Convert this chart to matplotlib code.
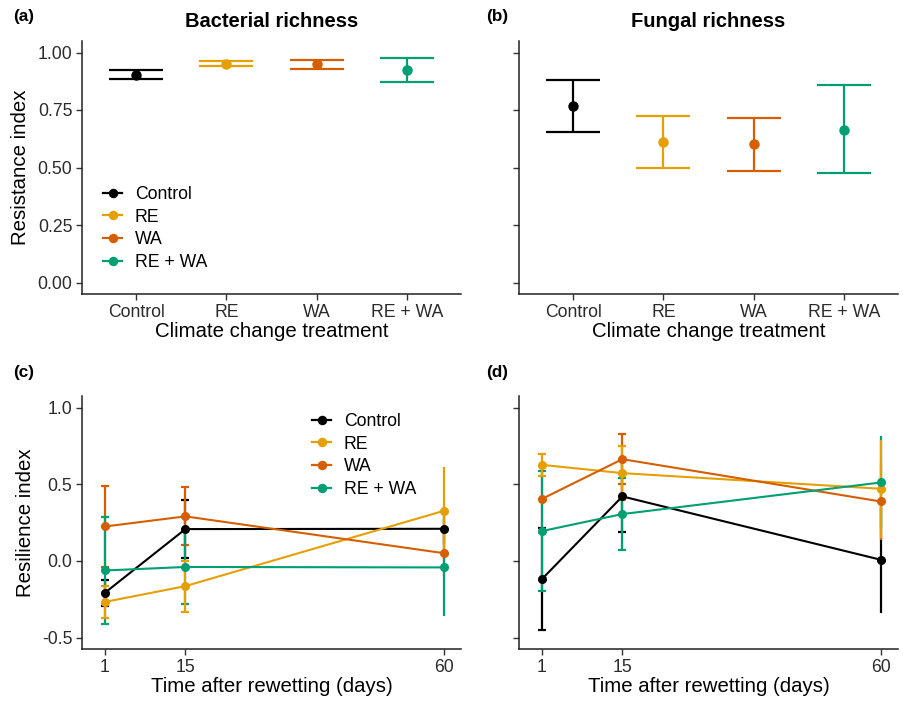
import matplotlib
matplotlib.use("Agg")
import matplotlib.pyplot as plt
from matplotlib.lines import Line2D

plt.rcParams['font.family'] = ['Liberation Sans', 'DejaVu Sans']
plt.rcParams['axes.unicode_minus'] = False

treatments = ['Control', 'RE', 'WA', 'RE + WA']
colors = ['#000000', '#E69F00', '#D55E00', '#009E73']
# error bars drawn with yellow on top, like the original
err_z = [2.0, 2.6, 2.2, 2.4]

# (a) bacterial richness resistance
bac_mean = [0.904, 0.952, 0.949, 0.922]
bac_low = [0.884, 0.942, 0.929, 0.873]
bac_high = [0.925, 0.961, 0.968, 0.974]

# (b) fungal richness resistance
fun_mean = [0.768, 0.610, 0.602, 0.665]
fun_low = [0.655, 0.497, 0.483, 0.476]
fun_high = [0.881, 0.725, 0.717, 0.857]

# (c), (d) resilience over time
days = [1, 15, 60]
bac_res = {
    'Control': ([-0.208, 0.207, 0.209], [0.084, 0.187, 0.10]),
    'RE': ([-0.268, -0.165, 0.326], [0.105, 0.167, 0.289]),
    'WA': ([0.224, 0.290, 0.050], [0.261, 0.189, 0.15]),
    'RE + WA': ([-0.063, -0.040, -0.043], [0.348, 0.239, 0.316]),
}
fun_res = {
    'Control': ([-0.119, 0.420, 0.007], [0.332, 0.235, 0.344]),
    'RE': ([0.626, 0.572, 0.470], [0.070, 0.178, 0.320]),
    'WA': ([0.404, 0.663, 0.387], [0.217, 0.165, 0.250]),
    'RE + WA': ([0.194, 0.305, 0.511], [0.390, 0.235, 0.305]),
}

W, H = 904, 704
fig = plt.figure(figsize=(W / 100, H / 100), dpi=100)


def px_axes(l, t, r, b):
    return fig.add_axes([l / W, 1 - b / H, (r - l) / W, (b - t) / H])


ax_a = px_axes(82, 41, 461, 294)
ax_b = px_axes(519, 41, 898, 294)
ax_c = px_axes(82, 396, 461, 649)
ax_d = px_axes(519, 396, 898, 649)

tick_fs = 12.7
lab_fs = 14.7


def style(ax):
    for s in ['top', 'right']:
        ax.spines[s].set_visible(False)
    for s in ['left', 'bottom']:
        ax.spines[s].set_linewidth(1.1)
        ax.spines[s].set_color('#222222')
    ax.tick_params(length=4, width=1.0, color='#333333', labelsize=tick_fs,
                   labelcolor='#2b2b2b', pad=3)


# resistance panels
for ax, mean, low, high, title in [(ax_a, bac_mean, bac_low, bac_high, 'Bacterial richness'),
                                   (ax_b, fun_mean, fun_low, fun_high, 'Fungal richness')]:
    for i, t in enumerate(treatments):
        x = i + 1
        ax.errorbar([x], [mean[i]], yerr=[[mean[i] - low[i]], [high[i] - mean[i]]],
                    fmt='o', color=colors[i], ms=6.5, elinewidth=1.6, capsize=19.5,
                    capthick=1.6, zorder=3)
    ax.set_xlim(0.4, 4.6)
    ax.set_ylim(-0.05, 1.05)
    ax.set_xticks([1, 2, 3, 4])
    ax.set_xticklabels(treatments)
    ax.set_yticks([0, 0.25, 0.5, 0.75, 1.0])
    ax.set_xlabel('Climate change treatment', fontsize=lab_fs, labelpad=1)
    ax.set_title(title, fontsize=14.5, fontweight='bold', pad=10)
    style(ax)

ax_a.set_yticklabels(['0.00', '0.25', '0.50', '0.75', '1.00'])
ax_a.set_ylabel('Resistance index', fontsize=lab_fs, labelpad=5)
ax_b.set_yticklabels([])

# resilience panels
for ax, data in [(ax_c, bac_res), (ax_d, fun_res)]:
    for i, t in enumerate(treatments):
        m, e = data[t]
        ax.errorbar(days[:2], m[:2], yerr=e[:2], fmt='none', ecolor=colors[i],
                    elinewidth=1.6, capsize=2.7, capthick=1.6, zorder=err_z[i])
        ax.errorbar(days[2:], m[2:], yerr=e[2:], fmt='none', ecolor=colors[i],
                    elinewidth=1.6, capsize=0, zorder=err_z[i])
        ax.plot(days, m, '-', color=colors[i], lw=1.5, zorder=3)
        ax.plot(days, m, 'o', color=colors[i], ms=5.5, zorder=4)
    ax.set_xlim(-3, 63)
    ax.set_ylim(-0.575, 1.075)
    ax.set_xticks(days)
    ax.set_yticks([-0.5, 0, 0.5, 1.0])
    ax.set_xlabel('Time after rewetting (days)', fontsize=lab_fs, labelpad=1)
    style(ax)

ax_c.set_yticklabels(['-0.5', '0.0', '0.5', '1.0'])
ax_c.set_ylabel('Resilience index', fontsize=lab_fs, labelpad=5)
ax_d.set_yticklabels([])

# legends
handles = [Line2D([0], [0], color=c, lw=1.6, marker='o', ms=5.8) for c in colors]
leg_kw = dict(frameon=False, fontsize=tick_fs, borderpad=0, borderaxespad=0,
              handlelength=1.1, handletextpad=0.7, labelspacing=0.32, loc='upper left')
ax_a.legend(handles, treatments, bbox_to_anchor=((103 - 82) / 379, (294 - 186) / 253), **leg_kw)
ax_c.legend(handles, treatments, bbox_to_anchor=((312 - 82) / 379, (649 - 413) / 253), **leg_kw)

# panel letters
for lab, x, y in [('(a)', 13, 16), ('(b)', 486, 16), ('(c)', 13, 372), ('(d)', 486, 372)]:
    fig.text(x / W, 1 - y / H, lab, fontsize=12.4, fontweight='bold', va='center', ha='left')

fig.savefig('out.png', dpi=100)
